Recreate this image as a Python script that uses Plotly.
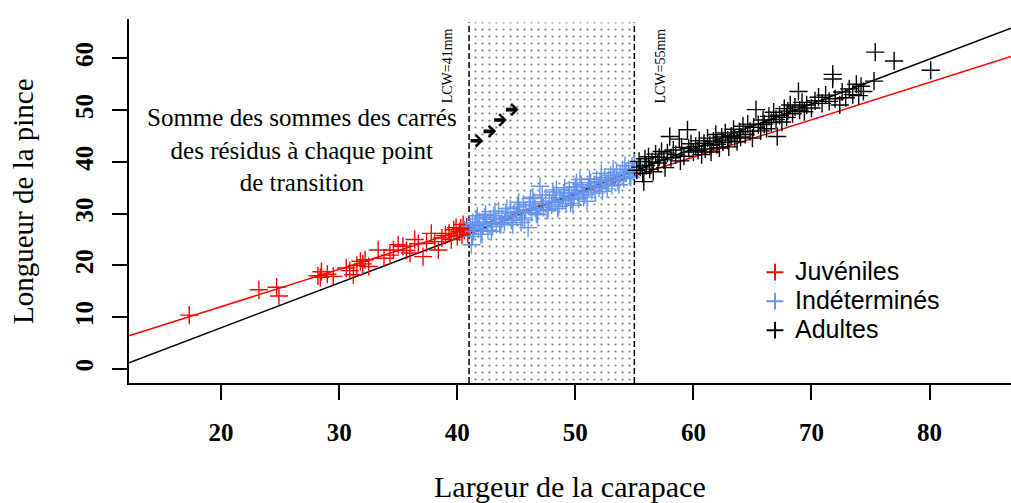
import numpy as np
import plotly.graph_objects as go

# Carapace width (x) and claw length (y) for each maturity group
juv_x = [17.3, 23.2, 24.7, 24.9, 28.2, 28.4, 28.5, 29.0, 29.5, 30.6, 30.9, 31.2, 31.5, 31.8,
         32.2, 32.5, 32.0, 33.3, 33.8, 34.3, 34.6, 35.0, 35.4, 35.7, 36.0, 36.4, 36.7, 37.1,
         37.4, 37.8, 38.1, 38.4, 38.7, 39.0, 39.3, 39.5, 39.7, 40.0, 40.2, 40.3, 40.5, 40.6,
         40.8, 40.9, 40.4, 39.9]
juv_y = [10.4, 15.3, 15.8, 14.1, 18.0, 17.7, 18.8, 18.3, 17.9, 19.5, 19.0, 18.2, 20.0, 20.8,
         21.1, 19.8, 20.3, 23.0, 21.4, 22.0, 23.0, 24.0, 23.7, 22.9, 22.4, 25.0, 24.2, 21.7,
         24.3, 26.2, 24.6, 23.0, 25.3, 25.8, 26.2, 25.0, 26.9, 25.6, 26.5, 27.2, 27.9, 26.8,
         27.4, 26.1, 25.9, 27.3]

ind_x = [41.1, 41.2, 41.3, 41.4, 41.5, 41.6, 41.8, 41.9, 42.0, 42.2, 42.3, 42.5, 42.6, 42.8,
         43.0, 43.1, 43.3, 43.5, 43.6, 43.8, 44.0, 44.1, 44.3, 44.5, 44.6, 44.8, 45.0, 45.1,
         45.3, 45.5, 45.6, 45.8, 46.0, 46.1, 46.3, 46.5, 46.6, 46.8, 47.0, 47.1, 47.3, 47.5,
         47.6, 47.8, 48.0, 48.2, 48.3, 48.5, 48.7, 48.9, 49.0, 49.2, 49.4, 49.5, 49.7, 49.9,
         50.0, 50.2, 50.3, 50.5, 50.6, 50.8, 51.0, 51.1, 51.3, 51.4, 51.6, 51.8, 52.0, 52.1,
         52.3, 52.5, 52.6, 52.8, 53.0, 53.1, 53.3, 53.5, 53.6, 53.8, 54.0, 54.1, 54.3, 54.5,
         54.6, 54.8, 54.9, 55.0,
         41.3, 41.7, 42.1, 42.4, 42.9, 43.2, 43.7, 44.2, 44.7, 45.2, 45.7, 46.2, 46.7, 47.2,
         47.7, 48.1, 48.6, 49.1, 49.6, 50.1, 50.7, 51.2, 51.7, 52.2, 52.7, 53.2, 53.7, 54.2,
         54.7, 46.4, 48.4, 50.4, 45.4, 49.8]
ind_y = [27.5, 24.0, 28.3, 26.6, 27.9, 29.0, 27.1, 28.4, 26.0, 27.8, 29.3, 28.1, 26.8, 28.9,
         27.5, 29.6, 28.4, 30.5, 27.9, 29.0, 28.3, 30.1, 29.4, 31.0, 28.7, 30.2, 29.6, 31.3,
         30.4, 29.2, 31.8, 30.7, 27.3, 31.5, 30.2, 32.3, 31.0, 29.8, 35.3, 32.0, 31.2, 33.0,
         30.6, 32.4, 31.7, 33.6, 32.2, 31.0, 33.1, 32.5, 34.0, 31.9, 33.4, 34.6, 32.8, 33.9,
         35.2, 34.1, 32.9, 35.6, 34.4, 33.6, 32.4, 35.1, 36.0, 34.5, 35.4, 36.6, 35.0, 36.2,
         34.3, 37.0, 35.8, 36.5, 37.4, 35.4, 36.9, 38.0, 36.3, 37.6, 38.5, 36.8, 37.9, 38.6,
         37.2, 39.2, 38.1, 39.8,
         25.6, 29.6, 26.0, 29.9, 26.6, 30.4, 28.0, 31.0, 27.9, 32.2, 28.8, 32.9, 30.0, 33.6,
         30.8, 34.2, 31.4, 35.0, 32.0, 36.0, 33.2, 36.7, 34.0, 37.8, 34.8, 38.6, 35.6, 39.3,
         37.0, 33.2, 34.6, 36.6, 28.3, 31.6]

adu_x = [55.2, 55.4, 55.5, 55.7, 55.8, 55.9, 56.0, 56.2, 56.3, 56.5, 56.6, 56.8, 57.0, 57.1,
         57.3, 57.5, 57.6, 57.8, 58.0, 58.1, 58.3, 58.5, 58.8, 58.9, 59.0, 59.2, 59.5, 59.6,
         59.8, 60.0, 60.2, 60.4, 60.5, 60.7, 60.9, 61.0, 61.2, 61.4, 61.5, 61.7, 61.9, 62.0,
         62.2, 62.4, 62.5, 62.7, 62.9, 63.0, 63.2, 63.4, 63.5, 63.7, 63.9, 64.0, 64.2, 64.4,
         64.6, 64.8, 65.0, 65.1, 65.3, 65.5, 65.7, 65.9, 66.0, 66.2, 66.4, 66.6, 66.8, 67.0,
         67.1, 67.3, 67.5, 67.7, 67.9, 68.0, 68.2, 68.4, 68.6, 68.9, 69.0, 69.2, 69.4, 69.6,
         70.0, 70.3, 70.6, 70.9, 71.2, 71.5, 71.8, 71.8, 72.0, 72.4, 72.6, 72.9, 73.2, 73.5,
         73.8, 74.0, 74.2, 74.4, 75.3, 75.4, 77.0, 80.1]
adu_y = [38.4, 40.1, 39.0, 37.8, 36.2, 40.6, 39.3, 41.0, 38.6, 40.0, 38.1, 41.5, 39.8, 40.9,
         42.0, 40.4, 38.9, 41.7, 44.9, 40.8, 42.3, 41.4, 44.4, 40.2, 42.8, 41.1, 46.2, 42.6,
         43.5, 41.9, 43.0, 42.2, 44.1, 41.4, 43.6, 42.5, 44.6, 43.2, 41.9, 44.0, 45.3, 43.4,
         42.7, 44.8, 43.8, 45.6, 44.2, 42.9, 45.0, 46.3, 44.6, 43.9, 45.8, 44.8, 46.9, 45.3,
         47.3, 45.9, 44.6, 46.7, 50.1, 47.2, 46.0, 48.1, 47.3, 46.4, 48.8, 47.6, 49.6, 48.2,
         44.9, 49.0, 47.7, 50.3, 48.6, 49.8, 51.0, 49.3, 50.6, 53.6, 50.0, 51.5, 49.7, 51.0,
         50.4, 51.8, 52.5, 51.3, 52.9, 51.7, 56.9, 56.0, 52.2, 51.0, 53.5, 52.4, 54.1, 53.0,
         55.0, 52.8, 54.6, 53.6, 55.6, 61.2, 59.5, 57.7]

# Fitted regressions (intercept, slope)
juv_fit = (-2.40, 0.722)
adu_fit = (-9.33, 0.865)

# Candidate transition window (LCW, mm)
lcw_low, lcw_high = 41, 55
# Arrows marking successive transition points
arrow_x = [41.0, 42.1, 43.0, 44.0]
arrow_y = [44.1, 45.9, 48.1, 50.1]
arrow_len = 1.2

x_range = [12.2, 86.9]
y_range = [-2.7, 67.6]
window_top = 66.9

x_ticks = [20, 30, 40, 50, 60, 70, 80]
y_ticks = [0, 10, 20, 30, 40, 50, 60]

RED = "#FF0000"
BLUE = "#6495ED"
BLACK = "#000000"
SERIF = "Liberation Serif, Times New Roman, serif"
SANS = "Liberation Sans, Arial, sans-serif"

fig = go.Figure()

# Dotted transition window
fig.add_trace(go.Scatter(
    x=[lcw_low, lcw_high, lcw_high, lcw_low, lcw_low],
    y=[y_range[0], y_range[0], window_top, window_top, y_range[0]],
    fill="toself", mode="none", fillcolor="rgba(0,0,0,0)",
    fillpattern=dict(shape=".", size=7, solidity=0.08, fgcolor="black", bgcolor="white"),
    showlegend=False, hoverinfo="skip"))
for xv in (lcw_low, lcw_high):
    fig.add_trace(go.Scatter(
        x=[xv, xv], y=[y_range[0], window_top], mode="lines",
        line=dict(color="black", width=1.5, dash="6px,3px"),
        showlegend=False, hoverinfo="skip"))

# Regression lines across the whole x range
xl = np.array(x_range)
for (a, b), col in ((juv_fit, RED), (adu_fit, BLACK)):
    fig.add_trace(go.Scatter(x=xl, y=a + b * xl, mode="lines",
                             line=dict(color=col, width=1.5),
                             showlegend=False, hoverinfo="skip"))

# Points
groups = [("Juvéniles", juv_x, juv_y, RED),
          ("Indéterminés", ind_x, ind_y, BLUE),
          ("Adultes", adu_x, adu_y, BLACK)]
for i, (name, xs, ys, col) in enumerate(groups):
    fig.add_trace(go.Scatter(
        x=xs, y=ys, mode="markers",
        name=f'<span style="font-size:25px">{name}</span>', legendgroup=str(i),
        marker=dict(symbol="cross-thin-open", size=13, color=col,
                    line=dict(color=col, width=1.4))))

annotations = []
# Arrows
for ax0, ay0 in zip(arrow_x, arrow_y):
    annotations.append(dict(
        x=ax0 + arrow_len, y=ay0, ax=ax0, ay=ay0, xref="x", yref="y", axref="x", ayref="y",
        showarrow=True, arrowhead=4, arrowsize=0.62, arrowwidth=3.6, arrowcolor="black",
        text=""))

# LCW labels
annotations.append(dict(x=lcw_low, y=66.1, xref="x", yref="y", text="LCW=41mm",
                        textangle=-90, showarrow=False, xanchor="center", yanchor="top",
                        xshift=-22, font=dict(family=SERIF, size=14, color="black")))
annotations.append(dict(x=lcw_high, y=66.1, xref="x", yref="y", text="LCW=55mm",
                        textangle=-90, showarrow=False, xanchor="center", yanchor="top",
                        xshift=26, font=dict(family=SERIF, size=14, color="black")))

# Explanatory text
annotations.append(dict(
    x=26.86, y=42.3, xref="x", yref="y",
    text="Somme des sommes des carrés<br>des résidus à chaque point<br>de transition",
    showarrow=False, xanchor="center", yanchor="middle", align="center",
    font=dict(family=SERIF, size=25, color="black")))

# Axis titles
annotations.append(dict(x=-0.1202, y=0.5, xref="paper", yref="paper",
                        text="Longueur de la pince", textangle=-90, showarrow=False,
                        xanchor="center", yanchor="middle",
                        font=dict(family=SERIF, size=29, color="black")))
annotations.append(dict(x=0.5, y=-0.284, xref="paper", yref="paper",
                        text="Largeur de la carapace", showarrow=False,
                        xanchor="center", yanchor="middle",
                        font=dict(family=SERIF, size=30, color="black")))

fig.update_layout(
    width=1011, height=503,
    margin=dict(l=129, r=0, t=19, b=120),
    plot_bgcolor="white", paper_bgcolor="white",
    annotations=annotations,
    legend=dict(x=0.7098, y=0.358, xanchor="left", yanchor="top",
                font=dict(family=SANS, size=20, color="black"),
                bgcolor="rgba(0,0,0,0)", traceorder="grouped", tracegroupgap=0,
                itemsizing="constant"),
    xaxis=dict(range=x_range, tickvals=x_ticks, showgrid=False, zeroline=False,
               showline=True, linecolor="black", linewidth=1.8,
               ticks="outside", ticklen=15, tickwidth=1.5, tickcolor="black",
               ticklabelstandoff=11,
               tickfont=dict(family=SERIF, size=25, color="black", weight="bold")),
    yaxis=dict(range=y_range, tickvals=y_ticks, showgrid=False, zeroline=False,
               showline=True, linecolor="black", linewidth=1.8,
               ticks="outside", ticklen=15, tickwidth=1.5, tickcolor="black",
               tickangle=-90, ticklabelstandoff=9,
               tickfont=dict(family=SERIF, size=25, color="black", weight="bold")),
)

fig.write_html("out.html")
